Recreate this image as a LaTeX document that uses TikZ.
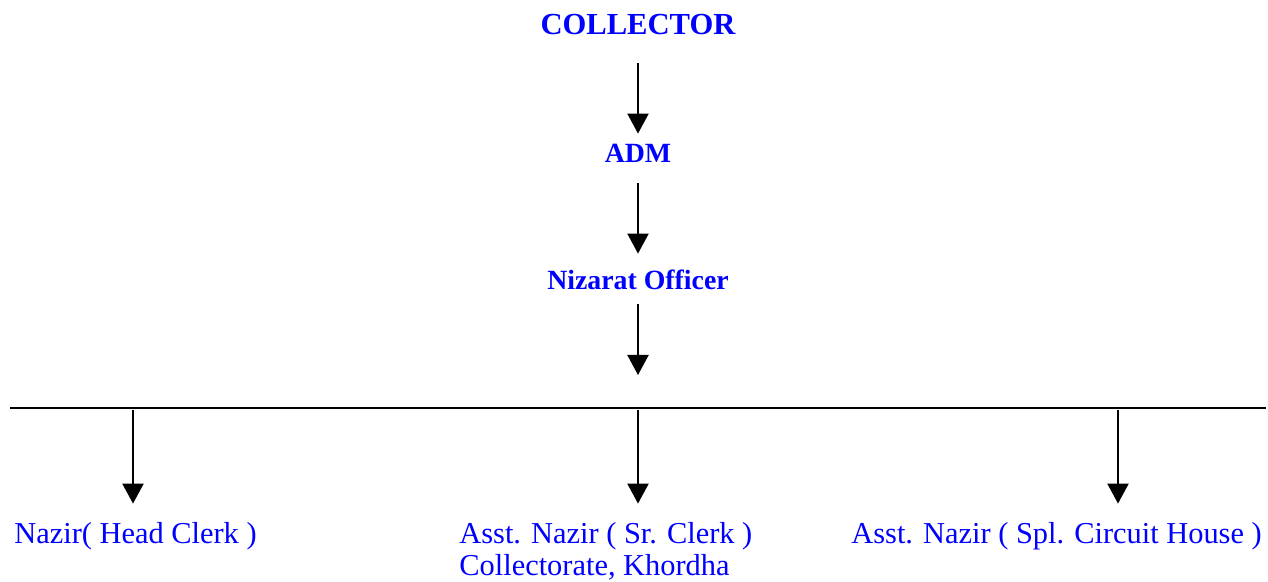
\documentclass[tikz,border=0pt]{standalone}
\usepackage{fontspec}
\setmainfont{Liberation Serif}
\usetikzlibrary{arrows.meta}
\definecolor{orgblue}{RGB}{0,0,255}
\begin{document}
\begin{tikzpicture}[x=0.5pt,y=-0.5pt,
	post/.style={text=orgblue,font=\bfseries\fontsize{13.9}{16}\selectfont,inner sep=0,text height=0pt,text depth=0pt},
	staff/.style={text=orgblue,font=\fontsize{15.2}{16}\selectfont,inner sep=0,text height=0pt,text depth=0pt,anchor=base west,align=left},
	link/.style={-{Triangle[length=10pt,width=10.5pt]},line width=1.1pt}]
	\useasboundingbox (0,0) rectangle (1268,582);
	\node[post,font=\bfseries\fontsize{15.3}{18}\selectfont](a) at (638,35) {COLLECTOR};
	\node[post](b) at (638,163) {ADM};
	\node[post](c) at (638,290) {Nizarat Officer};
	\coordinate (l) at (10,408);
	\coordinate (r) at (1266,408);
	\coordinate (m) at (638,408);
	\coordinate (t1) at (133,408);
	\coordinate (t3) at (1118,408);
	\node[staff](d) at (14,543) {Nazir( Head Clerk )};
	\node[staff](e) at (459,575) {Asst. Nazir ( Sr. Clerk )\\Collectorate, Khordha};
	\node[staff](f) at (851,543) {Asst. Nazir ( Spl. Circuit House )};
	\draw[link,shorten <=13.5pt,shorten >=14pt] (a) -- (b);
	\draw[link,shorten <=9.5pt,shorten >=17.5pt] (b) -- (c);
	\draw[link,shorten <=6.5pt,shorten >=16.5pt] (c) -- (m);
	\draw[line width=1.1pt] (l) -- (r);
	\draw[link,shorten <=1pt,shorten >=19pt] (t1) -- (t1 |- d.north);
	\draw[link,shorten <=1pt,shorten >=35pt] (m) -- (m |- e.north);
	\draw[link,shorten <=1pt,shorten >=19pt] (t3) -- (t3 |- f.north);
\end{tikzpicture}
\end{document}
